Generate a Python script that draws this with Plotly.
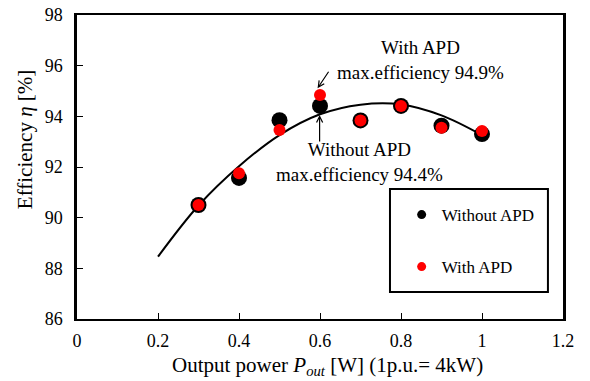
import plotly.graph_objects as go

# Data
power_pu = [0.3, 0.4, 0.5, 0.6, 0.7, 0.8, 0.9, 1.0]
eff_without_apd = [90.50, 91.57, 93.85, 94.41, 93.84, 94.41, 93.63, 93.30]
eff_with_apd = [90.50, 91.75, 93.46, 94.84, 93.84, 94.41, 93.55, 93.42]

trend_x = [0.2, 0.3, 0.4, 0.5, 0.6, 0.7, 0.8, 0.9, 1.0]
trend_y = [88.46, 90.48, 92.03, 93.26, 94.08, 94.46, 94.47, 94.04, 93.26]

x_ticks = [0, 0.2, 0.4, 0.6, 0.8, 1, 1.2]
y_ticks = [86, 88, 90, 92, 94, 96, 98]

FONT = "Liberation Serif, Times New Roman, Tinos, serif"

fig = go.Figure()

fig.add_trace(go.Scatter(x=trend_x, y=trend_y, mode="lines",
                         line=dict(color="black", width=2, shape="spline", smoothing=1.0),
                         showlegend=False, hoverinfo="skip"))
fig.add_trace(go.Scatter(x=power_pu, y=eff_without_apd, mode="markers",
                         marker=dict(color="black", size=16), showlegend=False))
fig.add_trace(go.Scatter(x=power_pu, y=eff_with_apd, mode="markers",
                         marker=dict(color="#ff0000", size=12), showlegend=False))

# legend entries (small symbols as in the reference)
fig.add_trace(go.Scatter(x=[None], y=[None], mode="markers", name="Without APD",
                         marker=dict(color="black", size=9), legend="legend"))
fig.add_trace(go.Scatter(x=[None], y=[None], mode="markers", name="With APD",
                         marker=dict(color="#ff0000", size=9), legend="legend2"))

legend_common = dict(font=dict(family=FONT, size=17, color="black"),
                     bgcolor="rgba(0,0,0,0)", borderwidth=0,
                     xanchor="left", yanchor="middle", itemwidth=30)

fig.update_layout(
    width=590, height=381,
    margin=dict(l=77, r=27, t=15, b=62),
    plot_bgcolor="white", paper_bgcolor="white",
    font=dict(family=FONT, size=18, color="black"),
    legend=dict(x=0.668, y=0.342, **legend_common),
    legend2=dict(x=0.668, y=0.171, **legend_common),
    xaxis=dict(range=[0, 1.2], tickvals=x_ticks, ticktext=[str(v) for v in x_ticks],
               ticks="inside", ticklen=6, tickwidth=1, tickcolor="black",
               showline=True, linecolor="black", linewidth=2, mirror=True,
               showgrid=False, zeroline=False, ticklabelstandoff=4, automargin=False,
               ticklabeloverflow="allow",
               tickfont=dict(family=FONT, size=18)),
    yaxis=dict(range=[86, 98], tickvals=y_ticks,
               ticks="inside", ticklen=6, tickwidth=1, tickcolor="black",
               showline=True, linecolor="black", linewidth=2.5, mirror=True,
               showgrid=False, zeroline=False, ticklabelstandoff=8, automargin=False,
               ticklabeloverflow="allow",
               tickfont=dict(family=FONT, size=18)),
    shapes=[dict(type="rect", xref="paper", yref="paper",
                 x0=0.644, x1=0.969, y0=0.089, y1=0.428,
                 line=dict(color="black", width=2), fillcolor="rgba(0,0,0,0)")],
    annotations=[
        # axis titles
        dict(x=0.515, y=-0.155, xref="paper", yref="paper", showarrow=False,
             text="Output power <i>P</i><sub><i>out</i></sub> [W] (1p.u.= 4kW)",
             xanchor="center", yanchor="middle",
             font=dict(family=FONT, size=21, color="black")),
        dict(x=-0.108, y=0.59, xref="paper", yref="paper", showarrow=False,
             text="Efficiency <i>η</i> [%]", textangle=-90,
             xanchor="center", yanchor="middle",
             font=dict(family=FONT, size=21, color="black")),
        # callouts
        dict(x=0.847, y=96.24, xref="x", yref="y", showarrow=False,
             text="With APD<br>max.efficiency 94.9%", align="center",
             xanchor="center", yanchor="middle",
             font=dict(family=FONT, size=19, color="black")),
        dict(x=0.6975, y=92.2, xref="x", yref="y", showarrow=False,
             text="Without APD<br>max.efficiency 94.4%", align="center",
             xanchor="center", yanchor="middle",
             font=dict(family=FONT, size=19, color="black")),
        dict(x=0.594, y=95.11, xref="x", yref="y", text="", showarrow=True,
             ax=12, ay=-18, arrowhead=5, arrowsize=1, arrowwidth=1.2, arrowcolor="black"),
        dict(x=0.599, y=94.05, xref="x", yref="y", text="", showarrow=True,
             ax=0, ay=28, arrowhead=5, arrowsize=1, arrowwidth=1.2, arrowcolor="black"),
    ],
)

fig.write_html("out.html", config={"displayModeBar": False},
               post_script="document.body.style.margin='0';document.body.style.overflow='hidden';")
